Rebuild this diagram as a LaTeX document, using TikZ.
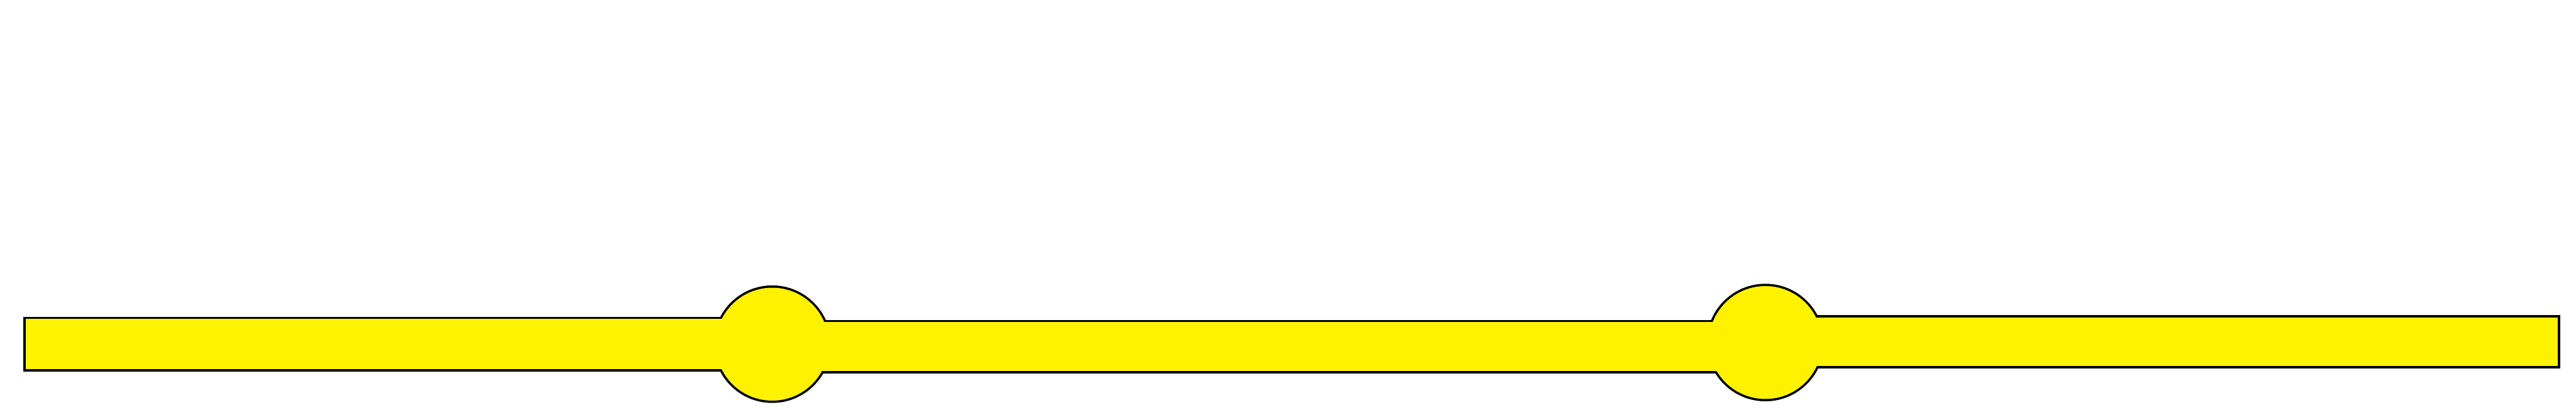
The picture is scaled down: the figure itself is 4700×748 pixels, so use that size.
\documentclass[tikz,border=0pt]{standalone}
\definecolor{pipeyellow}{RGB}{255,242,0}
\begin{document}
\begin{tikzpicture}[x=0.01cm,y=-0.01cm,
  outline/.style={draw=black,line width=2.4pt},
  inner/.style={fill=pipeyellow}]
\useasboundingbox (0,0) rectangle (4700,748);
% outlines first
\path[outline] (47,582) rectangle (1330,674);
\path[outline] (1490,588) rectangle (3140,677);
\path[outline] (3300,579) rectangle (4667,668);
\path[outline] (1409,628) circle (103);
\path[outline] (3221,625) circle (103);
% yellow fill on top hides inner halves of the outlines
\path[inner] (47,582) rectangle (1330,674);
\path[inner] (1490,588) rectangle (3140,677);
\path[inner] (3300,579) rectangle (4667,668);
\path[inner] (1409,628) circle (103);
\path[inner] (3221,625) circle (103);
\end{tikzpicture}
\end{document}
